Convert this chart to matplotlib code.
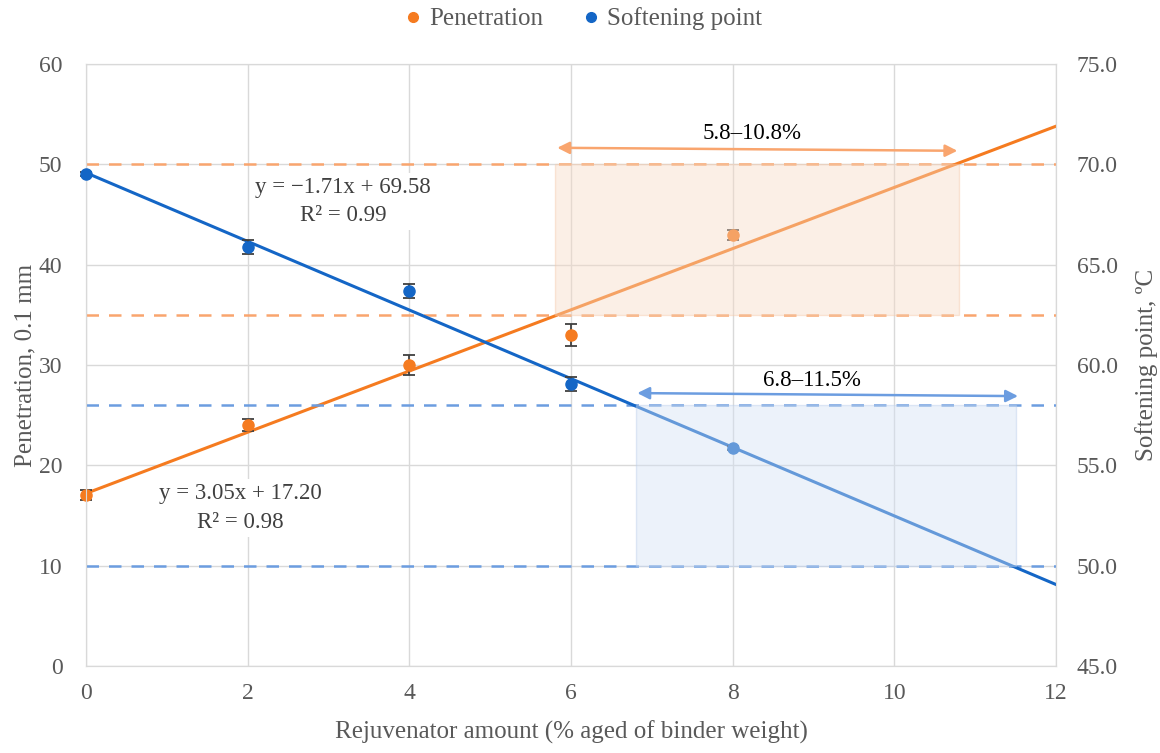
import matplotlib
matplotlib.use("Agg")
import matplotlib.pyplot as plt
from matplotlib.patches import Rectangle
from matplotlib.lines import Line2D
import numpy as np

plt.rcParams['font.family'] = ['Liberation Serif', 'DejaVu Serif']

# ---- data ----
rejuvenator = [0, 2, 4, 6, 8]
penetration = [17.0, 24.0, 30.0, 33.0, 43.0]
penetration_err = [0.5, 0.6, 1.0, 1.1, 0.5]
softening = [69.5, 65.9, 63.7, 59.05, 55.85]
softening_err = [0.1, 0.35, 0.35, 0.35, 0.1]

pen_fit = (3.05, 17.20)     # slope, intercept
soft_fit = (-1.71, 69.58)
pen_spec = (35, 50)
soft_spec = (50, 58)
pen_range = (5.8, 10.8)
soft_range = (6.8, 11.5)

xticks = [0, 2, 4, 6, 8, 10, 12]
left_ticks = [0, 10, 20, 30, 40, 50, 60]
right_ticks = [45.0, 50.0, 55.0, 60.0, 65.0, 70.0, 75.0]

ORANGE = '#F57B20'
BLUE = '#1466C6'
ORANGE_L = '#F9A56E'
BLUE_L = '#6C9DE0'
GREY = '#595959'
GRID = '#D9D9D9'

fig = plt.figure(figsize=(11.6, 7.53), dpi=100)
ax = fig.add_axes([86/1160, 87/753, (1056-86)/1160, (666-64)/753])
ax2 = ax.twinx()

ax.set_xlim(0, 12)
ax.set_ylim(0, 60)
ax2.set_ylim(45, 75)

ax.set_xticks(xticks)
ax.set_yticks(left_ticks)
ax2.set_yticks(right_ticks)
ax2.set_yticklabels([f'{v:.1f}' for v in right_ticks])
for a in (ax, ax2):
    a.tick_params(length=0, labelsize=17, colors=GREY)
    for s in a.spines.values():
        s.set_color(GRID)
ax.tick_params(axis='y', pad=17)
ax.tick_params(axis='x', pad=12)
ax2.tick_params(axis='y', pad=15)
ax.grid(True, color=GRID, linewidth=1)
ax.set_axisbelow(True)

# spec lines
for v in pen_spec:
    ax.axhline(v, color=ORANGE_L, linestyle=(0, (5, 4)), linewidth=1.8, zorder=1)
for v in soft_spec:
    ax2.axhline(v, color=BLUE_L, linestyle=(0, (5, 4)), linewidth=1.8, zorder=1)

xs = np.array([0, 12])
ax.plot(xs, pen_fit[0]*xs + pen_fit[1], color=ORANGE, linewidth=2.2, zorder=2)
ax2.plot(xs, soft_fit[0]*xs + soft_fit[1], color=BLUE, linewidth=2.2, zorder=2)

eb1 = ax.errorbar(rejuvenator, penetration, yerr=penetration_err, fmt='o', color=ORANGE,
                  markersize=8, ecolor='#404040', elinewidth=1.3, capsize=4, capthick=1.3, zorder=3)
eb2 = ax2.errorbar(rejuvenator, softening, yerr=softening_err, fmt='o', color=BLUE,
                   markersize=8, ecolor='#404040', elinewidth=1.3, capsize=4, capthick=1.3, zorder=3)
for eb in (eb1, eb2):
    for art in eb.get_children():
        art.set_clip_on(False)

# shaded overlays (drawn on top, translucent)
ax2.add_patch(Rectangle((pen_range[0], pen_spec[0]), pen_range[1]-pen_range[0],
                        pen_spec[1]-pen_spec[0], transform=ax.transData,
                        facecolor='#F7D9C4', alpha=0.42, edgecolor='#F5C8A8',
                        linewidth=1, zorder=5))
ax2.add_patch(Rectangle((soft_range[0], soft_spec[0]), soft_range[1]-soft_range[0],
                        soft_spec[1]-soft_spec[0], transform=ax2.transData,
                        facecolor='#D3E1F5', alpha=0.42, edgecolor='#B8CDEB',
                        linewidth=1, zorder=5))

# range arrows
ax2.annotate('', xy=(10.78, 51.35), xytext=(5.83, 51.65),
             xycoords=ax.transData, textcoords=ax.transData,
             arrowprops=dict(arrowstyle='<|-|>', color=ORANGE_L, lw=1.8,
                             mutation_scale=18, shrinkA=0, shrinkB=0), zorder=6)
ax2.annotate('', xy=(11.53, 26.9), xytext=(6.82, 27.2),
             xycoords=ax.transData, textcoords=ax.transData,
             arrowprops=dict(arrowstyle='<|-|>', color=BLUE_L, lw=1.8,
                             mutation_scale=18, shrinkA=0, shrinkB=0), zorder=6)
ax2.text(8.24, 53.1, '5.8–10.8%', transform=ax.transData, ha='center', va='center',
         fontsize=16.5, color='black', zorder=7)
ax2.text(8.98, 28.5, '6.8–11.5%', transform=ax.transData, ha='center', va='center',
         fontsize=16.5, color='black', zorder=7)

# equations
ax2.text(3.18, 46.3, 'y = −1.71x + 69.58\nR² = 0.99', transform=ax.transData,
         ha='center', va='center', fontsize=16.5, color='#404040', linespacing=1.45,
         bbox=dict(facecolor='white', edgecolor='none', pad=3), zorder=7)
ax2.text(1.905, 15.75, 'y = 3.05x + 17.20\nR² = 0.98', transform=ax.transData,
         ha='center', va='center', fontsize=16.5, color='#404040', linespacing=1.45,
         bbox=dict(facecolor='white', edgecolor='none', pad=3), zorder=7)

ax.set_xlabel('Rejuvenator amount (% aged of binder weight)', fontsize=18, color=GREY, labelpad=12)
ax.set_ylabel('Penetration, 0.1 mm', fontsize=18, color=GREY, labelpad=2)
ax2.set_ylabel('Softening point, ºC', fontsize=18, color=GREY, labelpad=12)

handles = [Line2D([], [], marker='o', color=ORANGE, linestyle='none', markersize=7),
           Line2D([], [], marker='o', color=BLUE, linestyle='none', markersize=7)]
leg = fig.legend(handles, ['Penetration', 'Softening point'], loc='center',
                 bbox_to_anchor=(0.5, 0.975), ncol=2, frameon=False, fontsize=18,
                 handletextpad=0.05, columnspacing=1.3, handlelength=1.2)
for t in leg.get_texts():
    t.set_color(GREY)

fig.savefig('out.png', dpi=100)
